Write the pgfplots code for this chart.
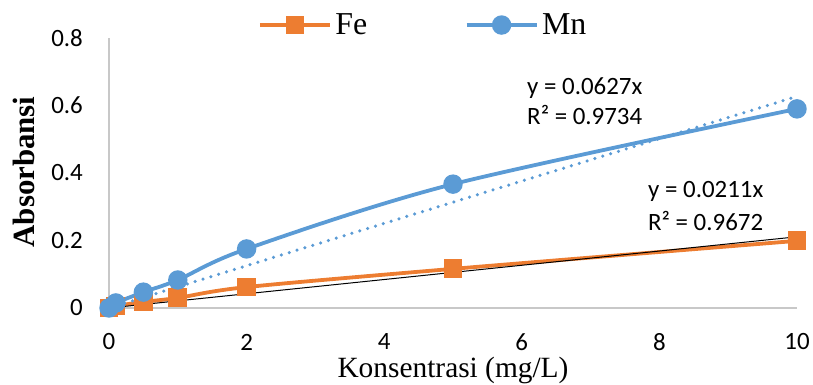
\documentclass[border=0pt]{standalone}
\usepackage{fontspec}
\setmainfont{Liberation Serif}
\newfontfamily\calibri{Carlito}
\usepackage{pgfplots}
\pgfplotsset{compat=1.18}
\definecolor{feor}{HTML}{ED7D31}
\definecolor{mnbl}{HTML}{5B9BD5}
\definecolor{axgray}{HTML}{C8C8C8}
\begin{document}
\begin{tikzpicture}
\begin{axis}[
  name=ax,
  scale only axis,
  width=688bp, height=270bp,
  xmin=0, xmax=10, ymin=0, ymax=0.8,
  axis x line=bottom, axis y line=left,
  axis line style={draw=axgray, line width=1.5bp, -},
  xtick={0,2,4,6,8,10},
  ytick={0,0.2,0.4,0.6,0.8},
  major tick length=0pt,
  /pgf/number format/assume math mode=true,
  ticklabel style={font=\fontsize{25}{28}\calibri},
  xticklabel style={anchor=center, inner sep=0pt, yshift=-34bp},
  yticklabel style={anchor=east, inner sep=0pt, xshift=-26bp, /pgf/number format/fixed, /pgf/number format/precision=1},
  xlabel={Konsentrasi (mg/L)},
  ylabel={\bfseries Absorbansi},
  xlabel style={font=\fontsize{29.5}{32}\selectfont, inner sep=0pt, at={(axis description cs:0.5,-0.259)}, anchor=base},
  ylabel style={font=\fontsize{31}{34}\selectfont, at={(axis description cs:-0.1235,0.504)}, anchor=center},
  clip=false,
  legend style={draw=none, fill=none, font=\fontsize{32}{34}\selectfont,
    at={(axis description cs:0.2166,1.048)}, anchor=west,
    inner sep=0pt, outer sep=0pt,
    legend columns=2, column sep=0pt,
    nodes={inner xsep=3.5bp, inner ysep=1bp},
    /tikz/every even column/.append style={column sep=94bp}},
  legend image code/.code={
    \draw[#1, mark repeat=2, mark phase=2] plot coordinates {(0bp,0bp) (35bp,0bp) (70bp,0bp)};
  },
]
\addplot[feor, line width=3.8bp, smooth, tension=0.5, mark=square*, mark size=7.5bp, mark options={solid, fill=feor}]
  coordinates {(0,0) (0.1,0.006) (0.5,0.018) (1,0.030) (2,0.062) (5,0.116) (10,0.199)};
\addlegendentry{Fe}
\addplot[mnbl, line width=3.8bp, smooth, tension=0.5, mark=*, mark size=7.8bp, mark options={solid, fill=mnbl}]
  coordinates {(0,0) (0.1,0.015) (0.5,0.047) (1,0.083) (2,0.175) (5,0.367) (10,0.590)};
\addlegendentry{Mn}
\addplot[mnbl, line width=3.5bp, dash pattern=on 0bp off 8.2bp, line cap=round, forget plot]
  coordinates {(0,0) (10,0.627)};
\addplot[black, line width=1bp, forget plot]
  coordinates {(0,0) (10,0.211)};
\node[anchor=base west, inner sep=0pt, font=\fontsize{25}{28}\calibri] at (axis cs:6.076,0.634) {y = 0.0627x};
\node[anchor=base west, inner sep=0pt, font=\fontsize{25}{28}\calibri] at (axis cs:6.076,0.545) {R² = 0.9734};
\node[anchor=base west, inner sep=0pt, font=\fontsize{25}{28}\calibri] at (axis cs:7.834,0.326) {y = 0.0211x};
\node[anchor=base west, inner sep=0pt, font=\fontsize{25}{28}\calibri] at (axis cs:7.834,0.231) {R² = 0.9672};
\end{axis}
\pgfresetboundingbox
\path (ax.south west) ++(-109bp,-77bp) rectangle ++(813bp,385bp);
\end{tikzpicture}
\end{document}
